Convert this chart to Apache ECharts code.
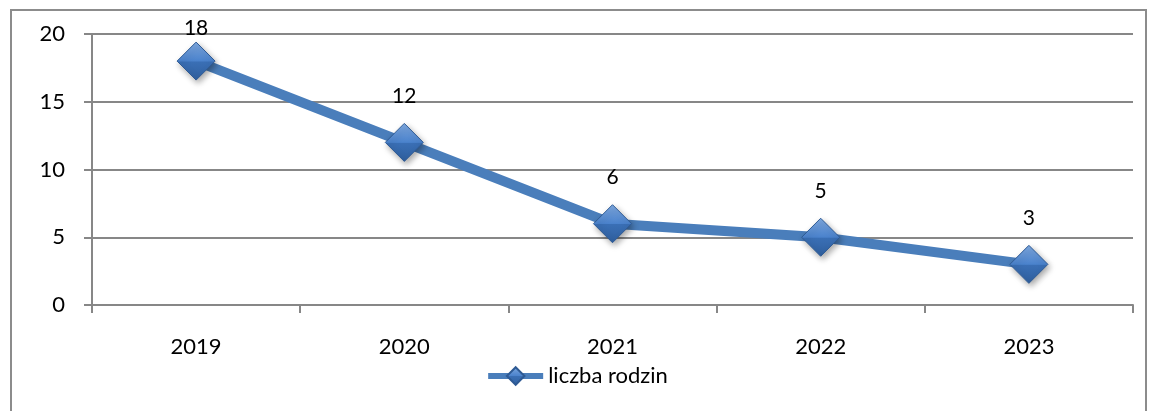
<!DOCTYPE html>
<html>
<head>
<meta charset="utf-8">
<script src="https://cdn.jsdelivr.net/npm/echarts@6/dist/echarts.min.js"></script>
<style>
  html, body { margin: 0; padding: 0; background: #fff; }
  #frame { position: absolute; left: 10px; top: 9px; width: 1137px; height: 420px; border: 2px solid #8c8c8c; box-sizing: border-box; }
  #chart { position: absolute; left: 0; top: 0; width: 1153px; height: 411px; }
</style>
</head>
<body>
<div id="frame"></div>
<div id="chart"></div>
<script>
  // dane z wykresu
  let years = ['2019', '2020', '2021', '2022', '2023'];
  let families = [18, 12, 6, 5, 3];
  let yTicks = [0, 5, 10, 15, 20];

  let chart = echarts.init(document.getElementById('chart'));
  let font = 'Lato, "Liberation Sans", sans-serif';
  let gray = '#878787';

  let diamond = {
    color: new echarts.graphic.LinearGradient(0, 0, 0, 1, [
      { offset: 0, color: '#7fa9e0' },
      { offset: 0.5, color: '#4a82cc' },
      { offset: 0.52, color: '#3a6fb5' },
      { offset: 1, color: '#2f5f9e' }
    ]),
    borderColor: '#2e5a94',
    borderWidth: 1,
    shadowColor: 'rgba(0,0,0,0.35)',
    shadowBlur: 6,
    shadowOffsetX: 2,
    shadowOffsetY: 3
  };

  let seriesData = families.map(function (v, i) {
    let item = { value: v };
    if (i === 0) item.label = { distance: 3 };
    return item;
  });

  let option = {
    animation: false,
    textStyle: { fontFamily: font },
    grid: { left: 92, right: 20, top: 34, bottom: 106 },
    legend: {
      bottom: 19,
      left: 'center',
      itemWidth: 55,
      itemHeight: 22,
      itemGap: 4,
      lineStyle: { width: 6 },
      itemStyle: { shadowBlur: 0, shadowOffsetX: 0, shadowOffsetY: 0 },
      textStyle: { fontFamily: font, fontSize: 22, color: '#000' },
      data: ['liczba rodzin']
    },
    xAxis: {
      type: 'category',
      data: years,
      boundaryGap: true,
      axisLine: { lineStyle: { color: gray, width: 2 } },
      axisTick: { show: true, length: 8, lineStyle: { color: gray, width: 2 } },
      axisLabel: { color: '#000', fontSize: 22, fontFamily: font, margin: 31 }
    },
    yAxis: {
      type: 'value',
      min: yTicks[0],
      max: yTicks[yTicks.length - 1],
      interval: 5,
      axisLine: { show: true, lineStyle: { color: gray, width: 2 } },
      axisTick: { show: true, length: 8, lineStyle: { color: gray, width: 2 } },
      splitLine: { lineStyle: { color: gray, width: 2 } },
      axisLabel: { color: '#000', fontSize: 22, fontFamily: font, margin: 27 }
    },
    series: [{
      name: 'liczba rodzin',
      type: 'line',
      data: seriesData,
      symbol: 'diamond',
      symbolSize: 38,
      lineStyle: { color: '#4a7ebb', width: 10 },
      itemStyle: diamond,
      label: {
        show: true,
        position: 'top',
        distance: 16,
        color: '#000',
        fontSize: 21,
        fontFamily: font
      }
    }]
  };
  chart.setOption(option, true);
</script>
</body>
</html>
